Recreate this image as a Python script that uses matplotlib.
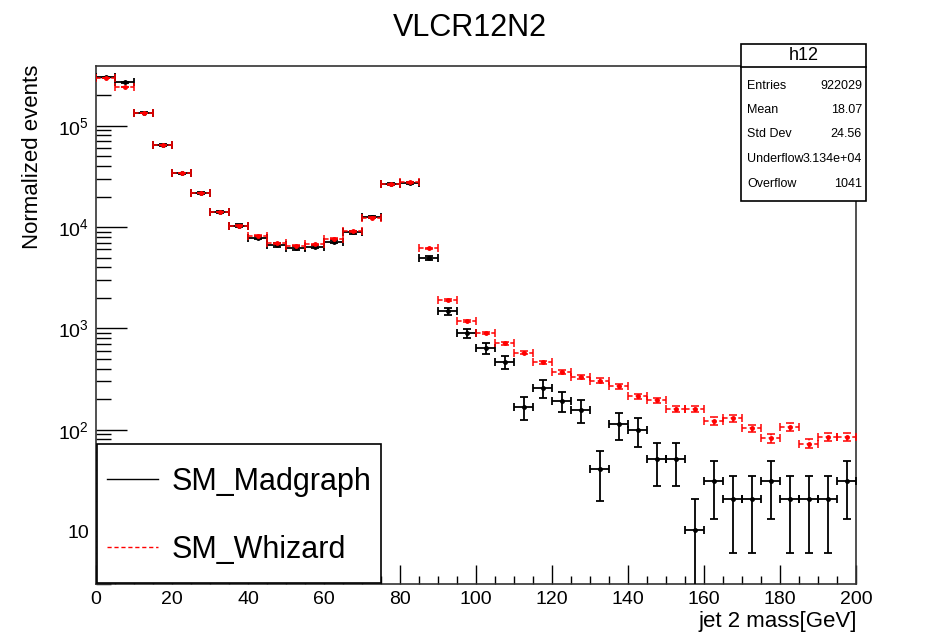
import numpy as np
import matplotlib
matplotlib.use('Agg')
import matplotlib.pyplot as plt
from matplotlib import font_manager
from matplotlib.patches import Rectangle
from matplotlib.lines import Line2D
from matplotlib.ticker import LogLocator, MultipleLocator, FuncFormatter, NullFormatter

plt.rcParams['font.family'] = ['Liberation Sans', 'DejaVu Sans']
plt.rcParams['mathtext.fontset'] = 'custom'
plt.rcParams['mathtext.rm'] = 'Liberation Sans'
plt.rcParams['mathtext.it'] = 'Liberation Sans:italic'

# 40 bins of 5 GeV between 0 and 200
bin_centres = np.arange(2.5, 200, 5)
half_width = 2.5

# SM_Madgraph (black)
madgraph = [3.00e5, 2.68e5, 1.34e5, 6.45e4, 3.39e4, 2.17e4, 1.41e4, 1.03e4,
            7840, 6630, 6250, 6400, 7160, 8870, 12600, 26600, 27300, 4980,
            1480, 890, 635, 465, 167, 256, 193, 156, 41, 113, 99, 51,
            51, 10.3, 31, 20.6, 20.6, 31, 20.6, 20.6, 20.6, 31]
madgraph_err = [1760, 1660, 1175, 815, 590, 473, 381, 326,
                284, 261, 254, 257, 272, 302, 360, 523, 530, 226,
                123, 96, 81, 69, 41, 51, 45, 40, 21, 34, 32, 23,
                23, 10.3, 18, 14.6, 14.6, 18, 14.6, 14.6, 14.6, 18]

# SM_Whizard (red)
whizard = [2.94e5, 2.43e5, 1.33e5, 6.4e4, 3.39e4, 2.17e4, 1.41e4, 1.03e4,
           8200, 6900, 6500, 6750, 7700, 9100, 12400, 26400, 27600, 6170,
           1900, 1190, 897, 716, 574, 461, 373, 331, 304, 267, 213, 195,
           160, 160, 122, 129, 103, 82, 107, 73, 85, 85]
whizard_err = [485, 441, 326, 226, 165, 132, 106, 91,
               81, 74, 72, 73, 78, 85, 100, 145, 149, 70,
               39, 31, 27, 24, 21, 19, 17, 16, 16, 15, 13, 12.5,
               11.3, 11.3, 9.9, 10.2, 9.1, 8.1, 9.3, 7.6, 8.2, 8.2]

legend_labels = ['SM_Madgraph', 'SM_Whizard']
stats_names = ['Entries', 'Mean', 'Std Dev', 'Underflow', 'Overflow']
stats_values = ['922029', '18.07', '24.56', '3.134e+04', '1041']

# narrow font for the stats box if it is there, otherwise a smaller regular one
try:
    font_manager.findfont('Liberation Sans Narrow', fallback_to_default=False)
    stats_font, stats_size = 'Liberation Sans Narrow', 11
except ValueError:
    stats_font, stats_size = 'Liberation Sans', 9

fig = plt.figure(figsize=(9.4, 6.35), dpi=100)
ax = fig.add_axes([96 / 940, 1 - 584 / 635, 760 / 940, 518 / 635])

# black histogram
ax.errorbar(bin_centres, madgraph, xerr=half_width, yerr=madgraph_err,
            fmt='o', ms=2.5, color='black', ecolor='black',
            elinewidth=1.3, capsize=3, capthick=1.3, zorder=3)

# red histogram, dashed error lines
eb = ax.errorbar(bin_centres, whizard, xerr=half_width, yerr=whizard_err,
                 fmt='o', ms=2.5, color='red', ecolor='red',
                 elinewidth=1.1, capsize=3, capthick=1.1, zorder=4)
for lc in eb[2]:
    lc.set_linestyle((0, (3, 2)))

ax.set_yscale('log')
ax.set_xlim(0, 200)
ax.set_ylim(3.0, 3.88e5)

ax.xaxis.set_major_locator(MultipleLocator(20))
ax.xaxis.set_minor_locator(MultipleLocator(5))
ax.yaxis.set_major_locator(LogLocator(base=10, numticks=10))
ax.yaxis.set_minor_locator(LogLocator(base=10, subs=np.arange(2, 10), numticks=20))
ax.yaxis.set_minor_formatter(NullFormatter())


def decade_label(v, pos):
    n = int(round(np.log10(v)))
    if n == 1:
        return '10'
    return r'$10^{%d}$' % n


ax.yaxis.set_major_formatter(FuncFormatter(decade_label))

ax.tick_params(axis='both', which='both', direction='in', top=False, right=False,
               labelsize=14, colors='black')
ax.tick_params(axis='x', which='major', length=14, width=1, pad=5)
ax.tick_params(axis='x', which='minor', length=6, width=1)
ax.tick_params(axis='y', which='major', length=22, width=1, pad=5)
ax.tick_params(axis='y', which='minor', length=11, width=1)
for sp in ax.spines.values():
    sp.set_linewidth(1.2)
    sp.set_color('#333333')

# legend box, drawn in axes fractions (ROOT TLegend look)
ax.add_patch(Rectangle((0.0013, 0.0019), 0.3737, 0.268, transform=ax.transAxes,
                       facecolor='white', edgecolor='black', lw=1.2, zorder=10))
ax.add_line(Line2D([0.0145, 0.0816], [0.2027, 0.2027], transform=ax.transAxes,
                   color='black', lw=1, zorder=11))
ax.add_line(Line2D([0.0145, 0.0816], [0.0714, 0.0714], transform=ax.transAxes,
                   color='red', lw=1, ls=(0, (3, 2)), zorder=11))
ax.text(0.100, 0.1815, legend_labels[0], transform=ax.transAxes, fontsize=22,
        ha='left', va='baseline', zorder=12)
ax.text(0.100, 0.0502, legend_labels[1], transform=ax.transAxes, fontsize=22,
        ha='left', va='baseline', zorder=12)

# titles
fig.text(0.5, 1 - 28 / 635, 'VLCR12N2', ha='center', va='center', fontsize=22)
fig.text(857 / 940, 1 - 622 / 635, 'jet 2 mass[GeV]', ha='right', va='center',
         fontsize=16)
fig.text(33 / 940, 1 - 65 / 635, 'Normalized events', ha='center', va='top',
         rotation=90, fontsize=16)

# stats box
bx0, bx1 = 741 / 940, 866 / 940
by_top, by_bot = 1 - 44 / 635, 1 - 201 / 635
fig.add_artist(Rectangle((bx0, by_bot), bx1 - bx0, by_top - by_bot,
                         transform=fig.transFigure, facecolor='white',
                         edgecolor='black', lw=1.2, zorder=20))
fig.add_artist(Line2D([bx0, bx1], [1 - 67 / 635, 1 - 67 / 635],
                      transform=fig.transFigure, color='black', lw=1.2, zorder=21))
fig.text((bx0 + bx1) / 2, 1 - 56 / 635, 'h12', ha='center', va='center',
         fontsize=13, zorder=22)
row_y = [86, 110, 134, 159, 184]
for name, val, yy in zip(stats_names, stats_values, row_y):
    fig.text(747 / 940, 1 - yy / 635, name, ha='left', va='center',
             family=stats_font, fontsize=stats_size, zorder=22)
    fig.text(862 / 940, 1 - yy / 635, val, ha='right', va='center',
             family=stats_font, fontsize=stats_size, zorder=22)

fig.savefig('out.png', dpi=100)
